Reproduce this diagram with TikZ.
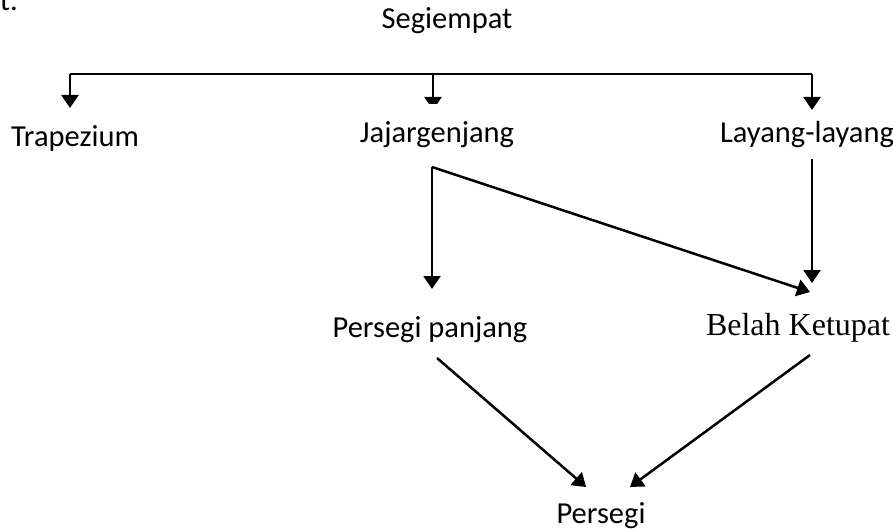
\documentclass[tikz,border=0pt]{standalone}
\usepackage{fontspec}
\setmainfont{Carlito}
\newfontfamily\serifface{Liberation Serif}
\usetikzlibrary{arrows.meta}

\tikzset{
  label text/.style={anchor=base, inner sep=0pt, font=\fontsize{30.5}{32}\selectfont},
  serif text/.style={anchor=base, inner sep=0pt, font=\serifface\fontsize{32}{34}\selectfont},
  link/.style={line width=2.5pt, draw=black},
  arr/.style={link, -{Triangle[width=17pt,length=13pt]}},
}

\begin{document}
\begin{tikzpicture}[x=1pt,y=-1pt]
  \useasboundingbox (0,0) rectangle (893,529);

  % tail of the preceding line of text
  \node[label text, anchor=base east] (prev) at (18,11) {t.};

  % labels
  \node[label text] (seg)  at (447,29)  {Segiempat};
  \node[label text] (trap) at (75,147)  {Trapezium};
  \node[label text] (jaj)  at (437,143) {Jajargenjang};
  \node[label text] (lay)  at (807,143) {Layang-layang};
  \node[label text] (pp)   at (430,337) {Persegi panjang};
  \node[serif text] (bk)   at (798,335) {Belah Ketupat};
  \node[label text] (ps)   at (601,523) {Persegi};

  % branching bar below the title
  \coordinate (barL) at (70,74);
  \coordinate (barM) at (433,74);
  \coordinate (barR) at (812,74);
  \coordinate (tipTrap) at (70,108);
  \coordinate (tipJaj)  at (433,110);
  \coordinate (tipLay)  at (812,110);

  \draw[link] (barL) -- (barR);
  \draw[arr] (barL) -- (tipTrap);
  \draw[arr] (barR) -- (tipLay);
  \begin{scope}
    \clip (0,0) rectangle (893,103.5);
    \draw[arr] (barM) -- (tipJaj);
  \end{scope}

  % second level
  \coordinate (jajOut) at (432,167);
  \coordinate (layOut) at (812,159);
  \coordinate (tipPP)  at (432,289);
  \coordinate (tipBK1) at (810,292);
  \coordinate (tipBK2) at (812,283);

  \draw[arr] (jajOut) -- (tipPP);
  \draw[arr] (jajOut) -- (tipBK1);
  \draw[arr] (layOut) -- (tipBK2);

  % third level
  \coordinate (ppOut) at (437,358);
  \coordinate (bkOut) at (810,355);
  \coordinate (tipPs1) at (586,487);
  \coordinate (tipPs2) at (630,487);

  \draw[arr] (ppOut) -- (tipPs1);
  \draw[arr] (bkOut) -- (tipPs2);
\end{tikzpicture}
\end{document}
